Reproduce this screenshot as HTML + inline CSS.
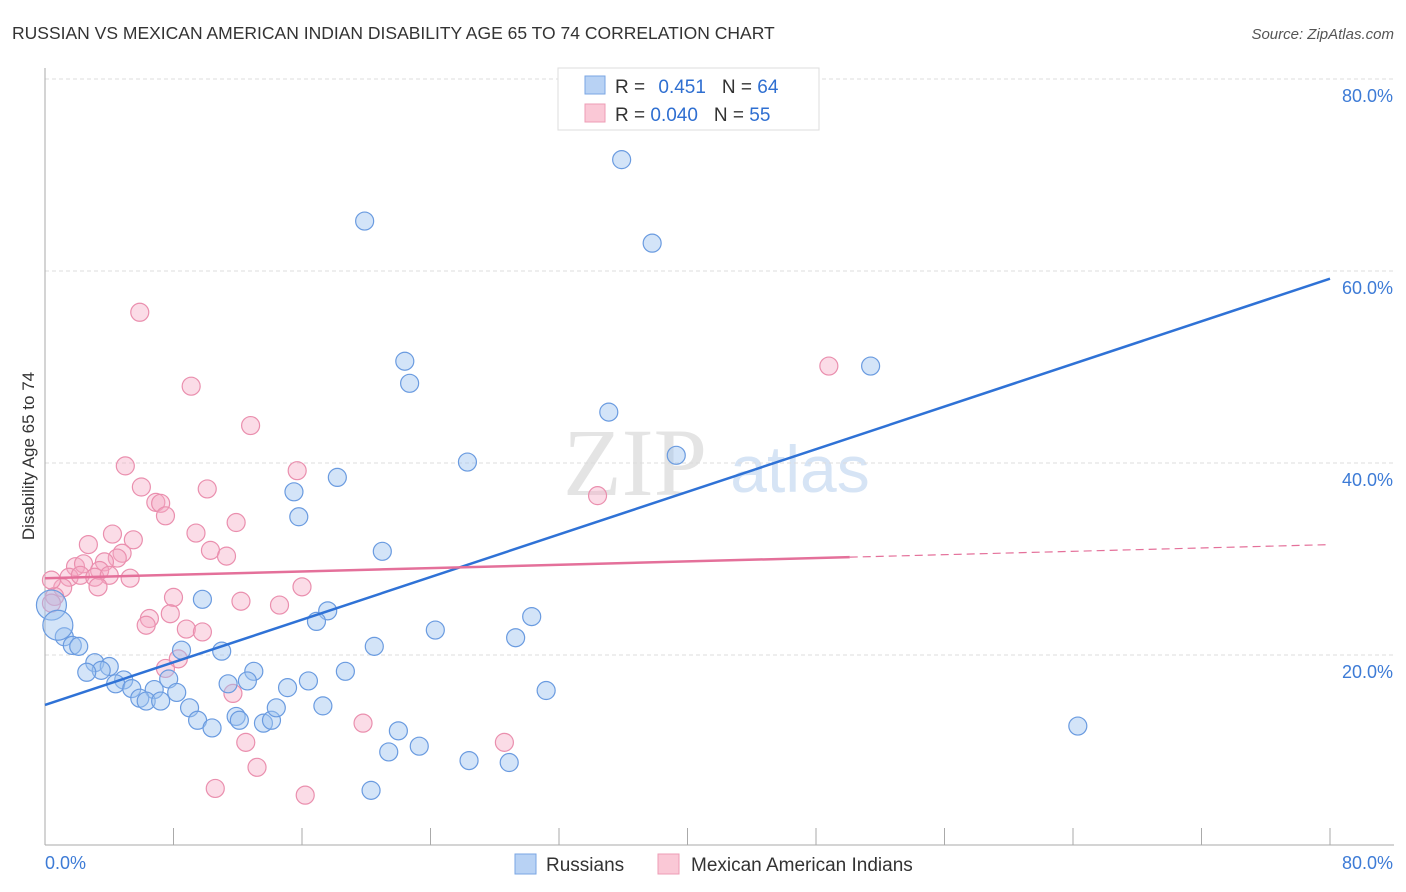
<!DOCTYPE html>
<html><head><meta charset="utf-8"><style>
body{margin:0;background:#fff;font-family:"Liberation Sans",sans-serif}
svg{display:block}
</style></head><body>
<svg id="c" width="1406" height="892">
<text x="12" y="39" font-size="17.5" fill="#333">RUSSIAN VS MEXICAN AMERICAN INDIAN DISABILITY AGE 65 TO 74 CORRELATION CHART</text>
<text x="1394" y="39" font-size="15" fill="#555" font-style="italic" text-anchor="end">Source: ZipAtlas.com</text>
<text x="635" y="495" font-size="96" fill="#e4e4e4" font-family="Liberation Serif" text-anchor="middle">ZIP</text>
<text x="800" y="492" font-size="66" fill="#d6e4f5" text-anchor="middle">atlas</text>
<g id="grid"></g><g id="axes"></g>
<g id="pink"></g><g id="blue"></g><g id="lines"></g>
<text transform="translate(34,456) rotate(-90)" font-size="17" fill="#333" text-anchor="middle">Disability Age 65 to 74</text>
<g>
<rect x="558" y="68" width="261" height="62" fill="#fff" stroke="#ddd"/>
<rect x="585" y="76" width="20" height="18" fill="#b8d2f4" stroke="#7aa6e3"/>
<rect x="585" y="104" width="20" height="18" fill="#fac8d6" stroke="#ee9cb5"/>
<text x="615" y="93" font-size="19" fill="#333">R = <tspan fill="#2f6fd1" dx="8">0.451</tspan><tspan dx="16" fill="#333">N = </tspan><tspan fill="#2f6fd1">64</tspan></text>
<text x="615" y="121" font-size="19" fill="#333">R = <tspan fill="#2f6fd1">0.040</tspan><tspan dx="16" fill="#333">N = </tspan><tspan fill="#2f6fd1">55</tspan></text>
</g>
<g>
<rect x="515" y="854" width="21" height="20" fill="#b8d2f4" stroke="#7aa6e3"/>
<text x="546" y="871" font-size="19" fill="#333">Russians</text>
<rect x="658" y="854" width="21" height="20" fill="#fac8d6" stroke="#ee9cb5"/>
<text x="691" y="871" font-size="19" fill="#333">Mexican American Indians</text>
</g>
</svg>
<script>
const blueX=[41.5,35.9,19.9,37.8,51.4,22.4,22.7,35.1,39.3,26.3,18.2,15.5,15.8,21.0,9.8,17.6,16.9,30.3,24.3,29.3,20.5,8.5,11.0,1.2,1.7,2.1,3.1,4.0,3.5,2.6,4.9,4.4,5.4,6.8,7.7,8.2,5.9,6.3,7.2,11.4,13.0,12.6,16.4,15.1,18.7,31.2,9.0,9.5,10.4,11.9,12.1,13.6,14.1,14.4,17.3,22.0,21.4,23.3,26.4,28.9,20.3,64.3];
const blueY=[79.9,71.6,65.2,62.9,50.1,50.6,48.3,45.3,40.8,40.1,38.5,37.0,34.4,30.8,25.8,24.6,23.5,24.0,22.6,21.8,20.9,20.5,20.4,21.9,21.0,20.9,19.2,18.8,18.4,18.2,17.4,17.0,16.5,16.4,17.5,16.1,15.5,15.2,15.2,17.0,18.3,17.3,17.3,16.6,18.3,16.3,14.5,13.2,12.4,13.6,13.2,12.9,13.2,14.5,14.7,12.1,9.9,10.5,9.0,8.8,5.9,12.6];
const blueBigX=[0.4,0.8];
const blueBigY=[25.2,23.1];
const pinkX=[5.9,9.1,48.8,12.8,5.0,15.7,6.0,10.1,6.9,7.2,7.5,11.9,34.4,4.2,9.4,5.5,2.7,10.3,4.8,4.5,11.3,1.9,2.4,3.7,3.4,1.5,2.2,3.1,4.0,5.3,1.1,3.3,16.0,0.6,0.4,8.0,12.2,14.6,6.5,6.3,7.8,8.8,9.8,8.3,7.5,11.7,19.8,12.5,28.6,13.2,10.6,16.2,0.4];
const pinkY=[55.7,48.0,50.1,43.9,39.7,39.2,37.5,37.3,35.9,35.8,34.5,33.8,36.6,32.6,32.7,32.0,31.5,30.9,30.6,30.1,30.3,29.2,29.5,29.7,28.8,28.1,28.3,28.1,28.3,28.0,27.0,27.1,27.1,26.1,25.4,26.0,25.6,25.2,23.8,23.1,24.3,22.7,22.4,19.6,18.6,16.0,12.9,10.9,10.9,8.3,6.1,5.4,27.8];
const yTicks=[20,40,60,80];
const yTickLabels=["20.0%","40.0%","60.0%","80.0%"];
const xTicks=[0,8,16,24,32,40,48,56,64,72,80];
const blueTrend=[14.8,59.2];
const pinkTrend=[28.0,31.5];
const pinkSolidEnd=50.1;

const NS="http://www.w3.org/2000/svg";
const sx=v=>45+v*1285/80, sy=v=>847-v*9.6;
function mk(tag,attrs,parent){const e=document.createElementNS(NS,tag);for(const k in attrs)e.setAttribute(k,attrs[k]);document.getElementById(parent).appendChild(e);return e;}
yTicks.forEach((t,i)=>{
  const g=mk('line',{x1:45,x2:1394,y1:sy(t),y2:sy(t),stroke:'#ddd','stroke-dasharray':'4,3'},'grid');
  
  
  const l=mk('text',{x:1393,y:sy(t)+23,'font-size':18,fill:'#3d7bd6','text-anchor':'end'},'grid');
  l.textContent=yTickLabels[i];
  
  
});
let a=mk('line',{x1:45,x2:45,y1:68,y2:845,stroke:'#aaa'},'axes');


a=mk('line',{x1:45,x2:1394,y1:845,y2:845,stroke:'#aaa'},'axes');


xTicks.forEach(t=>{const e=mk('line',{x1:sx(t),x2:sx(t),y1:828,y2:845,stroke:'#aaa'},'axes');
  
  });
let t=mk('text',{x:45,y:869,'font-size':18,fill:'#3d7bd6'},'axes');t.textContent='0.0%';


t=mk('text',{x:1393,y:869,'font-size':18,fill:'#3d7bd6','text-anchor':'end'},'axes');t.textContent='80.0%';


pinkX.forEach((x,i)=>{const c=mk('circle',{cx:sx(x),cy:sy(pinkY[i]),r:9,fill:'rgba(246,168,194,0.4)',stroke:'#ea8fae','stroke-width':1.2},'pink');
  
  });
blueX.forEach((x,i)=>{const c=mk('circle',{cx:sx(x),cy:sy(blueY[i]),r:9,fill:'rgba(158,195,240,0.45)',stroke:'#6a9be0','stroke-width':1.2},'blue');
  
  });
blueBigX.forEach((x,i)=>{const c=mk('circle',{cx:sx(x),cy:sy(blueBigY[i]),r:15,fill:'rgba(158,195,240,0.45)',stroke:'#6a9be0','stroke-width':1.2},'blue');
  
  });
const pAt=x=>pinkTrend[0]+(pinkTrend[1]-pinkTrend[0])*x/80;
let l=mk('line',{x1:sx(0),y1:sy(blueTrend[0]),x2:sx(80),y2:sy(blueTrend[1]),stroke:'#2f72d6','stroke-width':2.5},'lines');


l=mk('line',{x1:sx(0),y1:sy(pAt(0)),x2:sx(pinkSolidEnd),y2:sy(pAt(pinkSolidEnd)),stroke:'#e4709a','stroke-width':2.5},'lines');


l=mk('line',{x1:sx(pinkSolidEnd),y1:sy(pAt(pinkSolidEnd)),x2:sx(80),y2:sy(pAt(80)),stroke:'#e4709a','stroke-width':1.2,'stroke-dasharray':'8,5'},'lines');


</script>
</body></html>
